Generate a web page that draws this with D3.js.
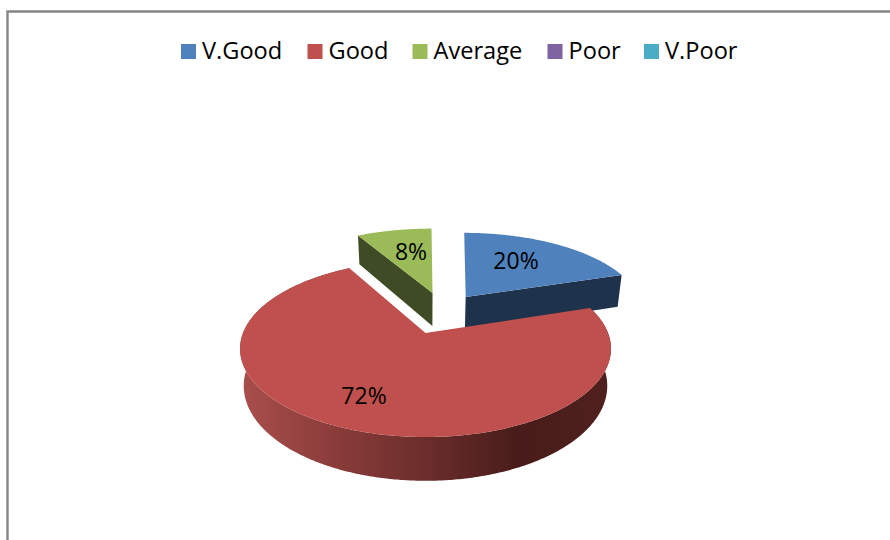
<!DOCTYPE html>
<html><head><meta charset="utf-8">
<script src="https://cdn.jsdelivr.net/npm/d3@7/dist/d3.min.js"></script>
<style>html,body{margin:0;padding:0;background:#fff;overflow:hidden}svg{display:block}</style>
</head><body><svg id="chart" width="890" height="540"></svg>
<script>
const categories = ["V.Good","Good","Average","Poor","V.Poor"];
const values = [20,72,8,0,0];
const labels = ["20%","72%","8%","",""];
const topColors = ["#4f81bd","#c0504d","#9bbb59","#8064a2","#4bacc6"];
const faceColors = ["#1f324c","#4d1e1c","#3e4b24","#33283f","#1e444f"];
// slice placement in disc units: explosion offset, radius and lean
const offsetX = [0.238,0,0.042,0,0];
const offsetV = [0.455,0,0.51,0,0];
const radii = [1.025,1,1.05,1,1];
const lean = [0.03,0,0,0,0];
const labelPos = [[516,260],[364,395],[411,251]];
const legendX = [181,307.5,412.5,547.5,644];

const svg = d3.select("#chart");
const fontFam = "'Open Sans',sans-serif";

// frame
svg.append("path").attr("d","M7.5,540V11.5H890").attr("fill","none").attr("stroke","#868686").attr("stroke-width",2.4);

// projection of the tilted disc
const k = 0.178;
const sx = d3.scaleLinear().domain([-1,1]).range([425.5-182.5,425.5+182.5]);
const sy = d3.scaleLinear().domain([-1,1]).range([333+85.5,333-85.5]);
function project(X,V,low){
  const s = 1/(1+k*V);
  const shrink = low ? 0.98 : 1;
  const depth = low ? 36*s : 0;
  return [425.5+(sx(X)-425.5)*s*shrink, sy(V*s)+depth];
}
const pie = d3.pie().sort(null).value(d=>d).startAngle(0).endAngle(2*Math.PI);
const arcs = pie(values);
function rim(i,a0,a1,low){
  const n = Math.max(2,Math.ceil(Math.abs(a1-a0)/0.01));
  return d3.range(n+1).map(j=>{
    const a = a0+(a1-a0)*j/n;
    const c = Math.cos(a);
    return project(offsetX[i]+radii[i]*Math.sin(a)+lean[i]*c,offsetV[i]+radii[i]*c,low);
  });
}
const line = d3.line().curve(d3.curveLinear);

const defs = svg.append("defs");
const grad = defs.append("linearGradient").attr("id","redWall").attr("gradientUnits","userSpaceOnUse")
  .attr("x1",244).attr("x2",610).attr("y1",0).attr("y2",0);
[[0,"#a84e4b"],[0.25,"#8a3c3a"],[0.5,"#6a2d2b"],[0.75,"#481c1a"],[1,"#4f201e"]].forEach(([o,c])=>
  grad.append("stop").attr("offset",o).attr("stop-color",c));

function drawSlice(i){
  const a = arcs[i];
  if(a.endAngle-a.startAngle<=0) return;
  const g = svg.append("g");
  const apexT = project(offsetX[i],offsetV[i],false);
  const apexB = project(offsetX[i],offsetV[i],true);
  if(i===1){
    const pts = rim(i,a.startAngle,a.endAngle,false).concat(rim(i,a.endAngle,a.startAngle,true));
    g.append("path").attr("d",line(pts)+"Z").attr("fill","url(#redWall)");
  }
  // cut faces
  const faces = i===0 ? [a.endAngle] : i===2 ? [a.startAngle] : [];
  faces.forEach(ang=>{
    const t = rim(i,ang,ang,false)[0], b = rim(i,ang,ang,true)[0];
    g.append("path").attr("d",line([apexT,t,b,apexB])+"Z").attr("fill",faceColors[i]);
  });
  const top = [apexT].concat(rim(i,a.startAngle,a.endAngle,false));
  g.append("path").attr("d",line(top)+"Z").attr("fill",topColors[i]);
}
[0,2,1].forEach(drawSlice);

// data labels
labels.forEach((t,i)=>{
  if(!t) return;
  svg.append("text").attr("x",labelPos[i][0]).attr("y",labelPos[i][1]).attr("text-anchor","middle")
    .attr("dominant-baseline","central").attr("font-family",fontFam).attr("font-size",23).attr("fill","#000").text(t);
});

// legend
categories.forEach((c,i)=>{
  svg.append("rect").attr("x",legendX[i]).attr("y",44).attr("width",15).attr("height",15).attr("fill",topColors[i]);
  svg.append("text").attr("x",legendX[i]+21).attr("y",59).attr("font-family",fontFam).attr("font-size",23.6).attr("fill","#000").text(c);
});
</script></body></html>
